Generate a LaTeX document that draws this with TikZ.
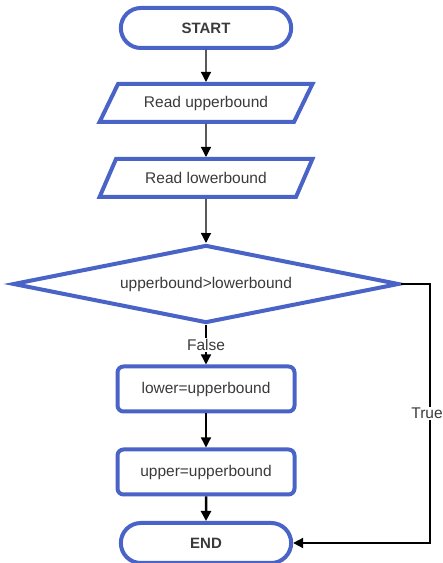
\documentclass[tikz,border=0pt]{standalone}
\usepackage{fontspec}
\setmainfont{Liberation Sans}
\usetikzlibrary{shapes.geometric,shapes.misc,arrows.meta}
\definecolor{flowblue}{HTML}{4A63C6}
\definecolor{flowtext}{HTML}{3A3A3A}
\begin{document}
\begin{tikzpicture}[x=1pt,y=1pt,
    box/.style={draw=flowblue,line width=4pt,text=flowtext,font=\fontsize{15.5}{18}\selectfont},
    terminal/.style={box,rounded rectangle,minimum width=177pt,minimum height=40pt,font=\fontsize{15}{18}\selectfont\bfseries},
    io/.style={box,trapezium,trapezium left angle=57,trapezium right angle=123,trapezium stretches=true,minimum width=213pt,minimum height=38pt},
    process/.style={box,rectangle,rounded corners=6pt,minimum width=177pt,minimum height=45pt},
    decision/.style={box,diamond,aspect=5,minimum width=386pt,minimum height=78pt,inner sep=0pt},
    flow/.style={draw=black,line width=1.3pt,-{Triangle[width=10pt,length=10pt]}},
    lbl/.style={fill=white,text=flowtext,font=\fontsize{15.5}{18}\selectfont,inner sep=1.5pt}]
  \useasboundingbox (0,0) rectangle (443,563);
  \node[terminal] (start) at (206,535) {START};
  \node[io] (readup) at (206,460) {Read upperbound};
  \node[io] (readlow) at (206,385) {Read lowerbound};
  \node[decision] (cond) at (206,279) {upperbound>lowerbound};
  \node[process] (setlow) at (206,174) {lower=upperbound};
  \node[process] (setup) at (206,91) {upper=upperbound};
  \node[terminal] (end) at (206,20) {END};
  \coordinate (tr) at (430,279);
  \coordinate (br) at (430,20);
  \draw[flow] (start) -- (readup);
  \draw[flow] (readup) -- (readlow);
  \draw[flow] (readlow) -- (cond);
  \draw[flow] (cond) -- node[lbl] {False} (setlow);
  \draw[flow] (setlow) -- (setup);
  \draw[flow,line width=2.5pt] (setup) -- (end);
  \draw[flow,line width=2pt] (cond.east) -- (tr) -- node[lbl,xshift=-3pt] {True} (br) -- (end.east);
\end{tikzpicture}
\end{document}
